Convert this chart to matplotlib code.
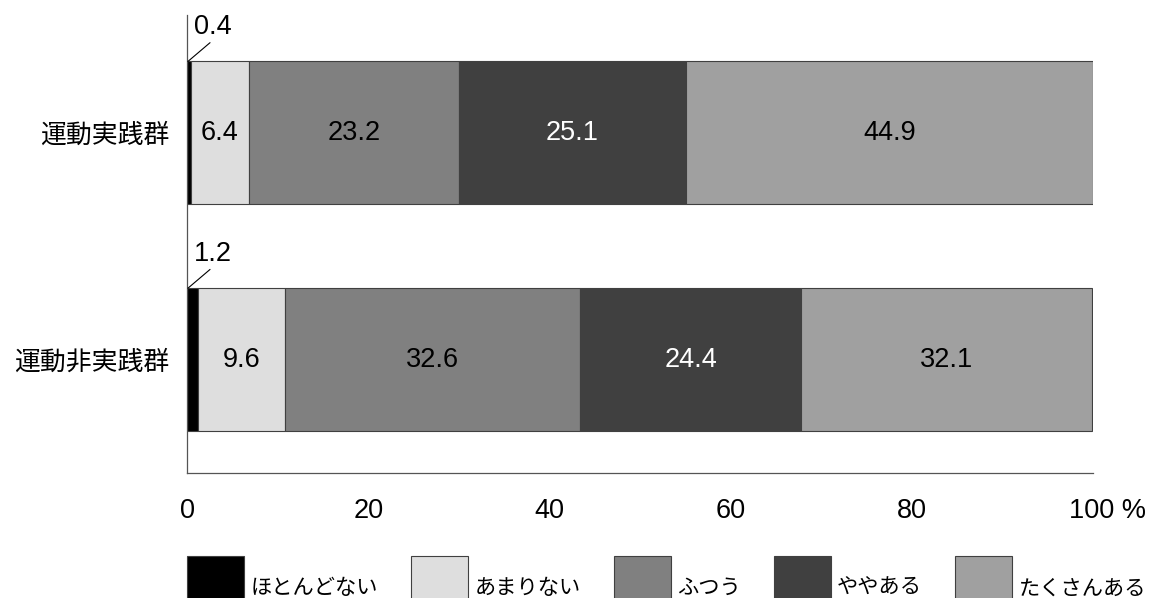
import numpy as np
import matplotlib.pyplot as plt

plt.rcParams['font.family'] = ['Liberation Sans', 'Noto Sans CJK JP']

## the data
groups = ['運動実践群', '運動非実践群']
answers = ['ほとんどない', 'あまりない', 'ふつう', 'ややある', 'たくさんある']
jissen = [0.4, 6.4, 23.2, 25.1, 44.9]
hijissen = [1.2, 9.6, 32.6, 24.4, 32.1]
xticks = [0, 20, 40, 60, 80, 100]

colors = ['#000000', '#dedede', '#808080', '#404040', '#a0a0a0']
text_colors = ['black', 'black', 'black', 'white', 'black']

fig = plt.figure(figsize=(11.51, 5.98), dpi=100)
ax = fig.add_axes([0.1625, 0.209, 0.7871, 0.766])

ypos = [1, 0]                     # top row first
height = 0.63
data = np.array([jissen, hijissen])

bars = []
for j in range(len(answers)):
    left = data[:, :j].sum(axis=1)
    b = ax.barh(ypos, data[:, j], height, left=left, color=colors[j],
                edgecolor='#404040', linewidth=0.8, label=answers[j])
    bars.append(b)
    for i in range(len(groups)):
        v = data[i, j]
        if j == 0:
            # small value: label above the bar with a leader line
            ax.annotate('%.1f' % v, xy=(0.1, ypos[i] + height / 2),
                        xytext=(2.9, ypos[i] + height / 2 + 0.095),
                        ha='center', va='bottom', fontsize=19.5,
                        arrowprops=dict(arrowstyle='-', lw=0.8, color='black',
                                        shrinkA=0, shrinkB=0, relpos=(0.5, 0)))
        else:
            ax.text(left[i] + v / 2, ypos[i], '%.1f' % v, ha='center',
                    va='center', fontsize=19.5, color=text_colors[j])

# axes and labels
ax.set_xlim(0, 100)
ax.set_ylim(-0.5, 1.52)
ax.set_xticks(xticks)
ax.set_xticklabels([str(t) for t in xticks[:-1]] + [''], fontsize=19.5)
# last label carries the unit, "100" stays centred on its tick
ax.annotate('100 %', xy=(100, 0), xycoords=('data', 'axes fraction'),
            xytext=(10.3, -18), textcoords='offset points', ha='center',
            va='top', fontsize=19.5)
ax.set_yticks(ypos)
ax.set_yticklabels(groups, fontsize=18.6)
ax.tick_params(axis='x', length=0, pad=18)
ax.tick_params(axis='y', length=0, pad=12.5)
ax.spines['top'].set_visible(False)
ax.spines['right'].set_visible(False)
for s in ['left', 'bottom']:
    ax.spines[s].set_color('#555555')
    ax.spines[s].set_linewidth(0.9)

## add a legend
fig.legend(handles=[b[0] for b in bars], labels=answers, loc='upper left',
           bbox_to_anchor=(187 / 1151, 1 - 556 / 598), ncol=5, frameon=False,
           fontsize=15.3, borderpad=0, borderaxespad=0, handlelength=2.68,
           handleheight=4.35, handletextpad=0.3, columnspacing=1.56)

plt.savefig('out.png', dpi=100)
